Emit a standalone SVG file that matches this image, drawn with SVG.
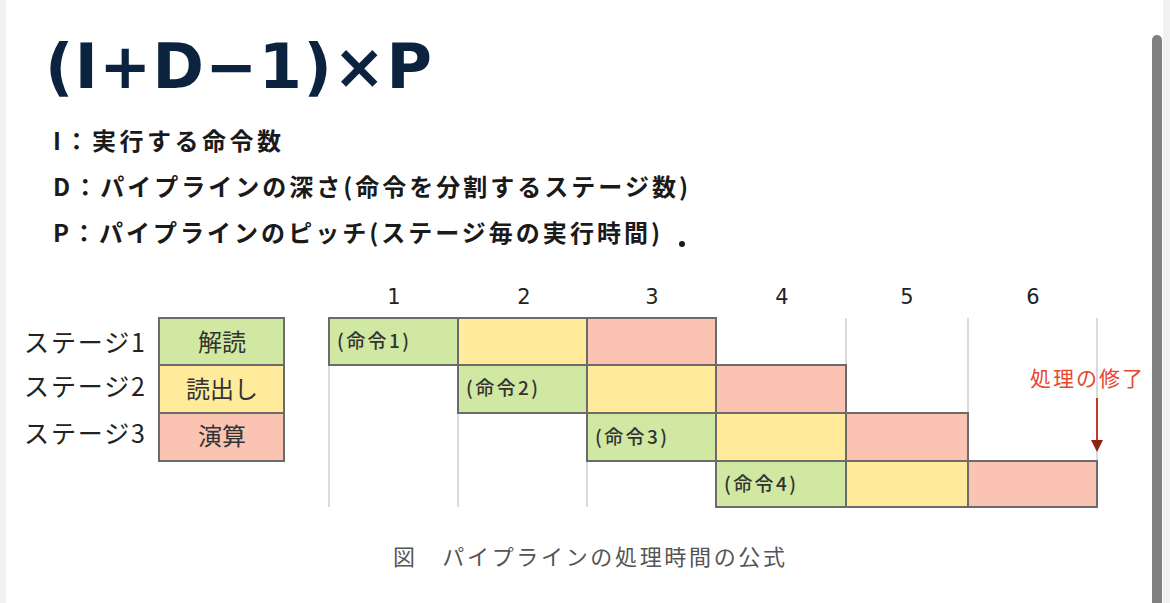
<svg xmlns="http://www.w3.org/2000/svg" width="1170" height="603" viewBox="0 0 1170 603">
<style>
.jp{font-family:"Noto Sans CJK JP","DejaVu Sans",sans-serif}
.sub{font-family:"Noto Sans CJK JP","DejaVu Sans",sans-serif;font-weight:bold;font-size:24px;fill:#1a1a1a}
.stage{font-size:25px;fill:#222}
.leg{font-size:24px;fill:#333;text-anchor:middle}
.num{font-family:"DejaVu Sans",sans-serif;font-size:21px;fill:#222;text-anchor:middle}
.cmd{font-size:19px;fill:#333;font-weight:500}
.g{fill:#d0e8a2}.y{fill:#ffeb9b}.r{fill:#fbc3b1}
.box{stroke:#6b6b6b;stroke-width:2}
.grid{stroke:#cfcfcf;stroke-width:1.5}
</style>
<defs>
<marker id="ah" markerWidth="12" markerHeight="12" refX="6" refY="6" orient="auto" markerUnits="userSpaceOnUse">
<path d="M0,0 L12,6 L0,12 Z" fill="#8e2418"/>
</marker>
</defs>
<rect x="0" y="0" width="1170" height="603" fill="#ffffff"/>
<rect x="0" y="0" width="6" height="603" fill="#f1f1f1"/>
<rect x="1163" y="0" width="7" height="603" fill="#f1f1f1"/>
<rect x="1152" y="35" width="10" height="580" rx="5" fill="#808080"/>

<g id="formula">
<text x="45" y="88" font-family="DejaVu Sans, sans-serif" font-weight="bold" font-size="62" fill="#0c2340" textLength="387" lengthAdjust="spacing">(I+D−1)×P</text>
<text class="sub" x="53" y="150" textLength="228" lengthAdjust="spacing">I：実行する命令数</text>
<text class="sub" x="53" y="196" textLength="635" lengthAdjust="spacing">D：パイプラインの深さ(命令を分割するステージ数)</text>
<text class="sub" x="53" y="242" textLength="607" lengthAdjust="spacing">P：パイプラインのピッチ(ステージ毎の実行時間)</text>
<circle cx="682" cy="244" r="3" fill="#1a1a1a"/>
</g>

<g id="legend">
<text class="jp stage" x="24" y="352" textLength="121" lengthAdjust="spacing">ステージ1</text>
<text class="jp stage" x="24" y="396" textLength="121" lengthAdjust="spacing">ステージ2</text>
<text class="jp stage" x="24" y="443" textLength="121" lengthAdjust="spacing">ステージ3</text>
<rect class="g box" x="159" y="318" width="125" height="47"/>
<rect class="y box" x="159" y="365" width="125" height="48"/>
<rect class="r box" x="159" y="413" width="125" height="48"/>
<text class="jp leg" x="222" y="351">解読</text>
<text class="jp leg" x="222" y="398">読出し</text>
<text class="jp leg" x="222" y="445">演算</text>
</g>

<g id="headers">
<text class="num" x="394" y="304">1</text>
<text class="num" x="524" y="304">2</text>
<text class="num" x="652" y="304">3</text>
<text class="num" x="782" y="304">4</text>
<text class="num" x="907" y="304">5</text>
<text class="num" x="1033" y="304">6</text>
</g>

<g id="gridlines">
<line class="grid" x1="329" y1="318" x2="329" y2="507"/>
<line class="grid" x1="458" y1="318" x2="458" y2="507"/>
<line class="grid" x1="587" y1="318" x2="587" y2="507"/>
<line class="grid" x1="716" y1="318" x2="716" y2="507"/>
<line class="grid" x1="846" y1="318" x2="846" y2="507"/>
<line class="grid" x1="968" y1="318" x2="968" y2="507"/>
<line class="grid" x1="1097" y1="318" x2="1097" y2="507"/>
</g>

<g id="instr1">
<rect class="g box" x="329" y="318" width="129" height="47"/>
<rect class="y box" x="458" y="318" width="129" height="47"/>
<rect class="r box" x="587" y="318" width="129" height="47"/>
<text class="jp cmd" x="337" y="348" textLength="72" lengthAdjust="spacing">(命令1)</text>
</g>
<g id="instr2">
<rect class="g box" x="458" y="365" width="129" height="48"/>
<rect class="y box" x="587" y="365" width="129" height="48"/>
<rect class="r box" x="716" y="365" width="130" height="48"/>
<text class="jp cmd" x="466" y="395" textLength="72" lengthAdjust="spacing">(命令2)</text>
</g>
<g id="instr3">
<rect class="g box" x="587" y="413" width="129" height="48"/>
<rect class="y box" x="716" y="413" width="130" height="48"/>
<rect class="r box" x="846" y="413" width="122" height="48"/>
<text class="jp cmd" x="595" y="444" textLength="72" lengthAdjust="spacing">(命令3)</text>
</g>
<g id="instr4">
<rect class="g box" x="716" y="461" width="130" height="46"/>
<rect class="y box" x="846" y="461" width="122" height="46"/>
<rect class="r box" x="968" y="461" width="129" height="46"/>
<text class="jp cmd" x="724" y="491" textLength="72" lengthAdjust="spacing">(命令4)</text>
</g>

<g id="end-label">
<text class="jp" x="1030" y="386" font-size="21" fill="#e8472e" textLength="113" lengthAdjust="spacing">処理の修了</text>
</g>

<g id="connectors">
<line x1="1097" y1="398" x2="1097" y2="446" stroke="#c0392b" stroke-width="2" marker-end="url(#ah)"/>
</g>

<text class="jp" x="393" y="565" font-size="22" fill="#555" textLength="392" lengthAdjust="spacing">図　パイプラインの処理時間の公式</text>
</svg>
